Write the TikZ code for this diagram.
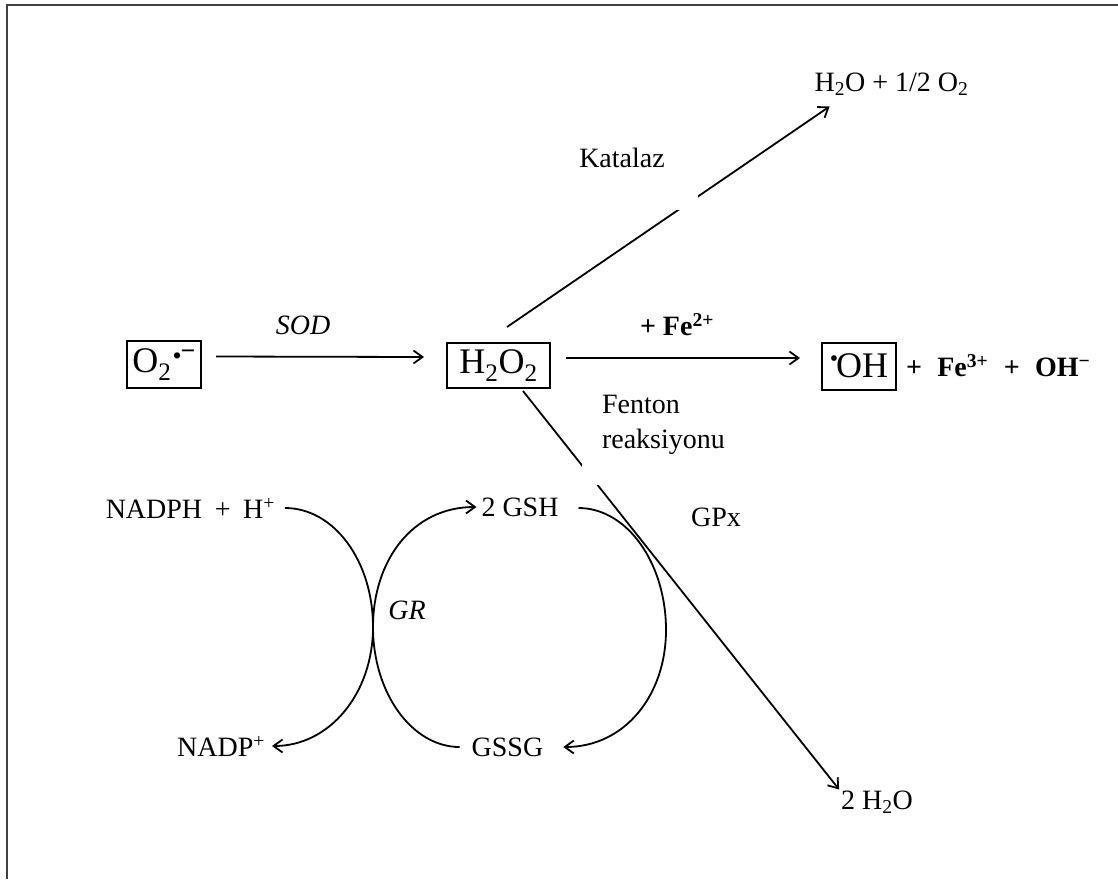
\documentclass[tikz,border=0pt]{standalone}
\usepackage{fontspec}
\setmainfont{Liberation Serif}
\usetikzlibrary{arrows.meta,calc}
\begin{document}
\begin{tikzpicture}[x=1pt,y=-1pt,
  txt/.style={inner sep=0pt,outer sep=0pt,font=\fontsize{28}{35}\selectfont},
  btxt/.style={inner sep=0pt,outer sep=0pt,font=\fontsize{28}{32}\selectfont\bfseries},
  boxed/.style={draw,line width=2pt,inner sep=2pt,font=\fontsize{36}{40}\selectfont},
  conn/.style={line width=1.8pt},
  arr/.style={conn,-{Straight Barb[length=9pt,width=13pt]}},
  patch/.style={fill=white}
]
\useasboundingbox (0,0) rectangle (1118,879);
\fill[white] (0,0) rectangle (1118,879);
\draw[line width=2pt,black!75] (7,879) -- (7,5) -- (1118,5);

% boxed species
\node[boxed,minimum width=74pt,minimum height=47pt] (o2) at (164,364.5)
  {O\textsubscript{2}\raisebox{0.22em}{\fontsize{26}{26}\selectfont\kern1pt•\kern-1pt\raisebox{0.2em}{\bfseries −}}};
\node[boxed,minimum width=103pt,minimum height=45pt] (h2o2) at (498.5,365.5)
  {H\textsubscript{2}O\textsubscript{2}};
\node[boxed,minimum width=74pt,minimum height=47pt] (oh) at (859,366)
  {\raisebox{0.32em}{\fontsize{24}{24}\selectfont•}\kern-2ptOH};
\node[btxt,anchor=west] (ohrest) at ($(oh.east)+(9,0)$)
  {+\hspace{0.55em}Fe\textsuperscript{3+}\hspace{0.55em}+\hspace{0.55em}OH\textsuperscript{−}};

% other species
\node[txt] (h2oo2) at (891.5,84) {H\textsubscript{2}O + 1/2 O\textsubscript{2}};
\node[txt] (w2) at (877,802) {2 H\textsubscript{2}O};
\node[txt,anchor=east] (nadph) at (275,508) {NADPH\hspace{0.45em}+\hspace{0.45em}H\textsuperscript{+}};
\node[txt,anchor=east] (nadp) at (265,746) {NADP\textsuperscript{+}};
\node[txt] (gsh) at (520,507) {2 GSH};
\node[txt] (gssg) at (507.5,747) {GSSG};

% labels
\node[txt,font=\fontsize{28}{35}\selectfont\itshape] (sod) at (303,325) {SOD};
\node[btxt] (fe2) at (677,325) {+ Fe\textsuperscript{2+}};
\node[txt,font=\fontsize{28}{35}\selectfont\itshape] (gr) at (407,610) {GR};
\node[txt] (gpx) at (716,517) {GPx};

% connectors
\draw[arr] ([xshift=14pt,yshift=8pt]o2.east) -- ([xshift=-22pt,yshift=8.5pt]h2o2.west);
\draw[arr] ([xshift=15pt,yshift=7.5pt]h2o2.east) -- ([xshift=-21pt,yshift=8pt]oh.west);
\draw[arr] ($(h2o2.north)+(8.5,-15)$) -- ($(h2oo2.south west)+(15,11)$);
\draw[arr] ($(h2o2.south)+(24.5,2)$) -- ($(w2.north west)+(-2,-1)$);

% glutathione cycle
\draw[arr] ($(nadph.east)+(10,0)$) .. controls (334,508) and (373,561) .. (373,627)
  .. controls (373,693) and (330,746) .. ($(nadp.east)+(7,0)$);
\draw[arr] ($(gssg.west)+(-12,0)$) .. controls (412,747) and (373,693) .. (373,627)
  .. controls (373,561) and (412,507) .. ($(gsh.west)+(-5,0)$);
\draw[arr] ($(gsh.east)+(20,1)$) .. controls (627,508) and (666,563) .. (666,630)
  .. controls (666,695) and (625,747) .. ($(gssg.east)+(20,0)$);

% white patches behind the enzyme labels
\fill[patch] (560,127) rectangle (698,210);
\fill[patch] (582,373) rectangle (778,485);
\node[txt] (kat) at (622,158) {Katalaz};
\node[txt,anchor=north west,align=left] (fenton) at (602,395) {Fenton\\reaksiyonu};
\end{tikzpicture}
\end{document}
